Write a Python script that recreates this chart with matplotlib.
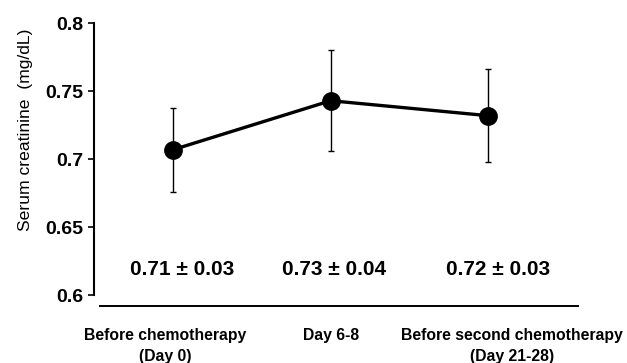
import matplotlib
matplotlib.use("Agg")
import matplotlib.pyplot as plt

# data
means = [0.707, 0.743, 0.732]
errors = [0.031, 0.037, 0.034]
summary = ["0.71 \u00b1 0.03", "0.73 \u00b1 0.04", "0.72 \u00b1 0.03"]
summary_x = [0.06, 1.02, 2.06]
label_line1 = ["Before chemotherapy", "Day 6-8", "Before second chemotherapy"]
label_line2 = ["(Day 0)", "", "(Day 21-28)"]
label_x = [-0.05, 1.0, 2.15]
yticks = [0.6, 0.65, 0.7, 0.75, 0.8]
ytick_labels = ["0.6", "0.65", "0.7", "0.75", "0.8"]

plt.rcParams['font.family'] = ['Liberation Sans', 'DejaVu Sans']

fig = plt.figure(figsize=(6.27, 3.63), dpi=100)
ax = fig.add_axes([0.15, 0.187, 0.772, 0.749])

x = list(range(len(means)))
ax.errorbar(x, means, yerr=errors, fmt='none', ecolor='black',
            elinewidth=1.0, capsize=2, capthick=1.0, zorder=2)
ax.plot(x, means, color='black', linewidth=2.4, marker='o',
        markersize=12.5, zorder=3)

for xi, s in zip(summary_x, summary):
    ax.text(xi, 0.619, s, ha='center', va='center', fontsize=15,
            fontweight='bold')

ax.set_ylim(0.6, 0.8)
ax.set_xlim(-0.502, 2.571)
ax.set_yticks(yticks)
ax.set_yticklabels(ytick_labels, fontsize=14, fontweight='bold')
ax.tick_params(axis='y', length=4.5, width=1.2, pad=3)
ax.set_xticks([])
ax.set_ylabel("Serum creatinine  (mg/dL)", fontsize=12.6)
ax.yaxis.set_label_coords(-0.126, 0.61)

for side in ['top', 'right', 'bottom']:
    ax.spines[side].set_visible(False)
ax.spines['left'].set_linewidth(1.5)

# separate baseline under the plot
ax.axhline(0.5919, xmin=0.012, xmax=1.0, color='black', linewidth=1.4,
           clip_on=False)

# category labels, two lines each
for xi, l1, l2 in zip(label_x, label_line1, label_line2):
    ax.text(xi, 0.5669, l1, ha='center', va='baseline', fontsize=11.3,
            fontweight='bold')
    if l2:
        ax.text(xi, 0.5515, l2, ha='center', va='baseline', fontsize=11.3,
                fontweight='bold')

fig.savefig("out.png", dpi=100, facecolor='white')
